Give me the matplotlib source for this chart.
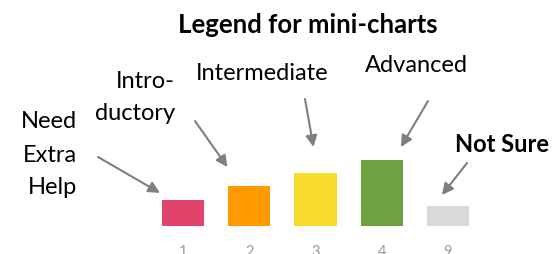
import matplotlib.pyplot as plt

plt.rcParams['font.family'] = ['Lato', 'DejaVu Sans']

# data
categories = ['1', '2', '3', '4', '9']
values = [2, 3, 4, 5, 1.5]
colors = ['#E2436A', '#FF9A00', '#F7DC2E', '#6CA340', '#D9D9D9']

W, H = 554, 254
fig = plt.figure(figsize=(W / 100, H / 100), dpi=100)
ax = fig.add_axes([150 / W, 28 / H, 331 / W, 66.25 / H])

x = range(len(categories))
ax.bar(x, values, width=0.64, color=colors)
ax.set_xlim(-0.5, 4.5)
ax.set_ylim(0, 5)
ax.set_xticks(list(x))
ax.set_xticklabels(categories, color='#9a9a9a', fontsize=10.5)
ax.tick_params(axis='x', length=0, pad=14)
ax.set_yticks([])
for s in ax.spines.values():
    s.set_visible(False)


def ftext(px, py, s, **kw):
    fig.text(px / W, 1 - py / H, s, va='center', **kw)


fs = 17
ftext(308, 25, 'Legend for mini-charts', ha='center', fontsize=18.5, fontweight='bold')
ftext(77, 122, 'Need', ha='right', fontsize=fs)
ftext(77, 156, 'Extra', ha='right', fontsize=fs)
ftext(77, 188, 'Help', ha='right', fontsize=fs)
ftext(175, 82, 'Intro-', ha='right', fontsize=fs)
ftext(175, 113, 'ductory', ha='right', fontsize=fs)
ftext(262, 74, 'Intermediate', ha='center', fontsize=fs)
ftext(416, 65, 'Advanced', ha='center', fontsize=fs)
ftext(502, 145, 'Not Sure', ha='center', fontsize=fs, fontweight='bold')

# arrows: tip on the bars (data), tail near the label (figure pixels)
arrows = [
    ((-0.35, 2.5), (98, 157)),
    ((0.67, 4.45), (195, 121)),
    ((1.97, 5.96), (305, 99)),
    ((3.29, 5.96), (428, 101)),
    ((3.91, 2.34), (467, 163)),
]
for tip, tail in arrows:
    ax.annotate('', xy=tip, xycoords='data',
                xytext=(tail[0], H - tail[1]), textcoords='figure pixels',
                annotation_clip=False,
                arrowprops=dict(arrowstyle='-|>', color='#7f7f7f', lw=1.5,
                                mutation_scale=17, shrinkA=0, shrinkB=0))

fig.savefig('out.png', dpi=100)
